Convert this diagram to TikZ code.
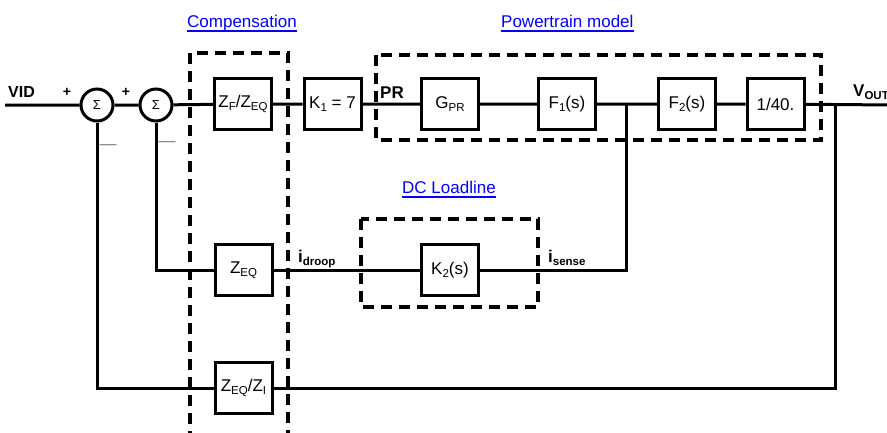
\documentclass[tikz,border=0pt]{standalone}
\usepackage{fontspec}
\setmainfont{Liberation Sans}
\definecolor{linkblue}{RGB}{0,0,255}
\definecolor{minusgray}{RGB}{128,128,128}
\newcommand{\myfs}{\fontsize{17bp}{20bp}\selectfont}
\newcommand{\sigfs}{\fontsize{13bp}{15bp}\selectfont}
\newcommand{\lowsub}[1]{\raisebox{-0.2em}{\fontsize{11.5bp}{12bp}\selectfont #1}}
\begin{document}
\begin{tikzpicture}[x=1bp,y=-1bp,
  wire/.style={line width=3bp},
  blk/.style={draw, line width=3bp, minimum width=57bp, minimum height=51bp, inner sep=0pt, font=\myfs},
  sumc/.style={draw, circle, line width=3bp, minimum size=32bp, inner sep=0pt, font=\sigfs},
  grp/.style={line width=3.4bp, dash pattern=on 11bp off 7bp},
  ttl/.style={text=linkblue, font=\myfs, inner sep=0pt, anchor=base west},
  uline/.style={draw=linkblue, line width=1.4bp},
  lbl/.style={font=\myfs\bfseries, inner sep=0pt, anchor=base west},
  sgn/.style={font=\fontsize{14bp}{16bp}\selectfont\bfseries, inner sep=0pt},
  mns/.style={font=\myfs, text=minusgray, inner sep=0pt}]
\useasboundingbox (0,0) rectangle (887,432);
\fill[white] (0,0) rectangle (887,432);

% group frames
\draw[grp] (190,53) rectangle (288,450);
\draw[grp] (376,55) rectangle (821,140);
\draw[grp] (361,219) rectangle (538,307);

% titles
\node[ttl] (tcomp) at (187,27) {Compensation};
\node[ttl] (tpow) at (501,27) {Powertrain model};
\node[ttl] (tdc) at (402,193) {DC Loadline};
\foreach \t in {tcomp,tpow,tdc}
  \draw[uline] ([yshift=-4bp]\t.base west) -- ([yshift=-4bp]\t.base east);

% summing junctions
\node[sumc] (s1) at (97,105) {Σ};
\node[sumc] (s2) at (156,105) {Σ};

% blocks
\node[blk] (zf) at (243,104) {Z\lowsub{F}/Z\lowsub{EQ}};
\node[blk] (k1) at (332.5,104) {K\lowsub{1} = 7};
\node[blk] (gpr) at (450,104) {G\lowsub{PR}};
\node[blk] (f1) at (567,104) {F\lowsub{1}(s)};
\node[blk] (f2) at (687,104) {F\lowsub{2}(s)};
\node[blk] (d40) at (775.5,104) {1/40.};
\node[blk] (zeq) at (243.5,270) {Z\lowsub{EQ}};
\node[blk] (k2) at (450,270) {K\lowsub{2}(s)};
\node[blk] (zi) at (243.5,388) {Z\lowsub{EQ}/Z\lowsub{I}};

% coordinates
\coordinate (in) at (5,105);
\coordinate (out) at (892,105);
\coordinate (j1) at (626,105);
\coordinate (j1b) at (626,270);
\coordinate (j2) at (835,105);
\coordinate (j2b) at (835,388);

% wires
\draw[wire] (in) -- (s1) -- (s2) -- (zf) -- (k1) -- (gpr) -- (f1) -- (f2) -- (d40) -- (out);
\draw[wire] (j1) -- (j1b) -- (k2) -- (zeq) -| (s2);
\draw[wire] (j2) -- (j2b) -- (zi) -| (s1);

% signal labels
\node[lbl, font=\fontsize{16bp}{19bp}\selectfont\bfseries] (vid) at (8,97) {VID};
\node[lbl] (pr) at (380,98) {PR};
\node[lbl] (vout) at (853,96) {V\lowsub{OUT}};
\node[lbl] (idr) at (298,262) {i\lowsub{droop}};
\node[lbl] (ise) at (548,262) {i\lowsub{sense}};

% signs
\node[sgn] (p1) at (67,92) {+};
\node[sgn] (p2) at (126,92) {+};
\node[mns] (m1) at (108,147) {—};
\node[mns] (m2) at (167,144) {—};
\end{tikzpicture}
\end{document}
